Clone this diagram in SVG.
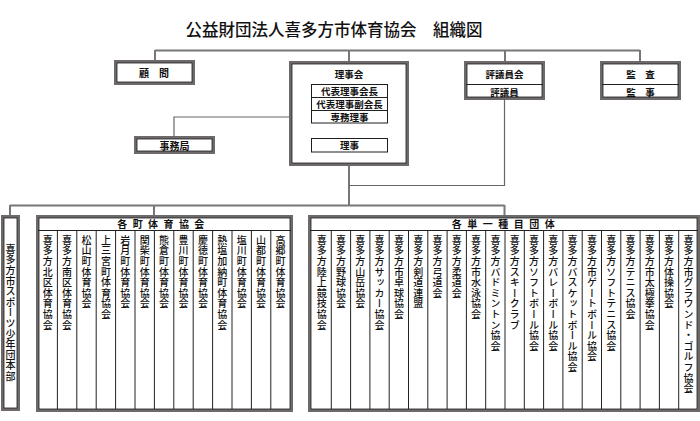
<svg xmlns="http://www.w3.org/2000/svg" width="700" height="421" viewBox="0 0 700 421">
<style>
text{font-family:"Noto Sans CJK JP","Noto Sans CJK SC",sans-serif;fill:#111}
.t{font-size:9.5px;font-weight:700;text-anchor:middle;dominant-baseline:central}
.v{font-size:10px;font-weight:500;writing-mode:vertical-rl;letter-spacing:0.6px}
.frame{fill:#fff;stroke:#6e6a6a;stroke-width:3}
.fin{fill:none;stroke:#1e1e1e;stroke-width:0.8}
.thin{fill:none;stroke:#1e1e1e;stroke-width:1}
.div{stroke:#222;stroke-width:1}
.c{fill:none;stroke:#777;stroke-width:2}
.c1{fill:none;stroke:#666;stroke-width:1.2}
</style>
<text x="334" y="36" style="font-size:16.5px;font-weight:500" text-anchor="middle">公益財団法人喜多方市体育協会　組織図</text>

<g id="connectors">
<path class="c" d="M155,50.5H640M155,50V61M349,50V62M505,50V62M640,50V62"/>
<path class="c1" d="M311,117H174V137"/>
<path class="c" d="M349,165V205"/>
<path class="c1" d="M504.5,99V185.5H349"/>
<path class="c" d="M10,205.5H504.5M10,205V216M154,205V216M504.5,205V216"/>
</g>

<g id="komon">
<rect class="frame" x="115.5" y="61.5" width="78" height="22"/>
<rect class="fin" x="117" y="63" width="75" height="19"/>
<text class="t" x="154" y="72.5" style="font-size:10px">顧　問</text>
</g>

<g id="rijikai">
<rect class="frame" x="290.5" y="62.5" width="117" height="102"/>
<rect class="fin" x="292" y="64" width="114" height="99"/>
<text class="t" x="349" y="73.5">理事会</text>
<rect class="thin" x="311.5" y="84.5" width="76" height="38.5"/>
<path class="div" d="M311.5,97.5H387.5M311.5,110.5H387.5"/>
<text class="t" x="349.5" y="91">代表理事会長</text>
<text class="t" x="349.5" y="104">代表理事副会長</text>
<text class="t" x="349.5" y="117">専務理事</text>
<rect class="thin" x="311.5" y="138.5" width="76" height="13.5"/>
<text class="t" x="349.5" y="145.3">理事</text>
</g>

<g id="jimukyoku">
<rect class="frame" x="135.5" y="137.5" width="78" height="15"/>
<rect class="fin" x="137" y="139" width="75" height="12"/>
<text class="t" x="174.5" y="145.3" style="font-size:10px">事務局</text>
</g>

<g id="hyogiinkai">
<rect class="frame" x="465.5" y="62.5" width="78" height="36"/>
<rect class="fin" x="467" y="64" width="75" height="33"/>
<path class="div" d="M466,84.5H543"/>
<text class="t" x="504.5" y="73.5">評議員会</text>
<text class="t" x="504.5" y="91.5">評議員</text>
</g>

<g id="kansa">
<rect class="frame" x="601.5" y="62.5" width="78" height="36"/>
<rect class="fin" x="603" y="64" width="75" height="33"/>
<path class="div" d="M602,84.5H679"/>
<text class="t" x="640.5" y="73.5">監　査</text>
<text class="t" x="640.5" y="91.5">監　事</text>
</g>

<g id="shonendan">
<rect class="frame" x="2.5" y="216.5" width="16" height="193"/>
<rect class="fin" x="4" y="218" width="13" height="190"/>
<text class="v" x="10.5" y="244">喜多方市スポーツ少年団本部</text>
</g>

<g id="kakucho">
<rect class="frame" x="37.5" y="216.5" width="254" height="194"/>
<rect class="fin" x="39" y="218" width="251" height="191"/>
<path class="div" d="M38,230.5H291M57.4,230.5V409M76.8,230.5V409M96.2,230.5V409M115.6,230.5V409M135,230.5V409M154.4,230.5V409M173.8,230.5V409M193.2,230.5V409M212.6,230.5V409M232,230.5V409M251.4,230.5V409M270.8,230.5V409"/>
<text class="t" x="163.5" y="223.5" style="font-size:10px;letter-spacing:5.4px">各町体育協会</text>
<text class="v" x="47.7" y="235">喜多方北区体育協会</text>
<text class="v" x="67.1" y="235">喜多方南区体育協会</text>
<text class="v" x="86.5" y="235">松山町体育協会</text>
<text class="v" x="105.9" y="235">上三宮町体育協会</text>
<text class="v" x="125.3" y="235">岩月町体育協会</text>
<text class="v" x="144.7" y="235">関柴町体育協会</text>
<text class="v" x="164.1" y="235">熊倉町体育協会</text>
<text class="v" x="183.5" y="235">豊川町体育協会</text>
<text class="v" x="202.9" y="235">慶徳町体育協会</text>
<text class="v" x="222.3" y="235">熱塩加納町体育協会</text>
<text class="v" x="241.7" y="235">塩川町体育協会</text>
<text class="v" x="261.1" y="235">山都町体育協会</text>
<text class="v" x="280.5" y="235">高郷町体育協会</text>
</g>

<g id="kakutanitsu">
<rect class="frame" x="309.5" y="216.5" width="389" height="194"/>
<rect class="fin" x="311" y="218" width="386" height="191"/>
<path class="div" d="M310,230.5H698M331.3,230.5V409M350.6,230.5V409M369.9,230.5V409M389.2,230.5V409M408.5,230.5V409M427.8,230.5V409M447.1,230.5V409M466.4,230.5V409M485.7,230.5V409M505,230.5V409M524.3,230.5V409M543.6,230.5V409M562.9,230.5V409M582.2,230.5V409M601.5,230.5V409M620.8,230.5V409M640.1,230.5V409M659.4,230.5V409M678.7,230.5V409"/>
<text class="t" x="506" y="223.5" style="font-size:10px;letter-spacing:5.5px">各単一種目団体</text>
<text class="v" x="321.7" y="235">喜多方陸上競技協会</text>
<text class="v" x="341" y="235">喜多方野球協会</text>
<text class="v" x="360.3" y="235">喜多方山岳協会</text>
<text class="v" x="379.6" y="235">喜多方サッカー協会</text>
<text class="v" x="398.9" y="235">喜多方市卓球協会</text>
<text class="v" x="418.2" y="235">喜多方剣道連盟</text>
<text class="v" x="437.5" y="235">喜多方弓道会</text>
<text class="v" x="456.8" y="235">喜多方柔道会</text>
<text class="v" x="476.1" y="235">喜多方市水泳協会</text>
<text class="v" x="495.4" y="235">喜多方バドミントン協会</text>
<text class="v" x="514.7" y="235">喜多方スキークラブ</text>
<text class="v" x="534" y="235">喜多方ソフトボール協会</text>
<text class="v" x="553.3" y="235">喜多方バレーボール協会</text>
<text class="v" x="572.6" y="235">喜多方バスケットボール協会</text>
<text class="v" x="591.9" y="235">喜多方市ゲートボール協会</text>
<text class="v" x="611.2" y="235">喜多方ソフトテニス協会</text>
<text class="v" x="630.5" y="235">喜多方テニス協会</text>
<text class="v" x="649.8" y="235">喜多方市太極拳協会</text>
<text class="v" x="669.1" y="235">喜多方体操協会</text>
<text class="v" x="688.4" y="235">喜多方市グラウンド・ゴルフ協会</text>
</g>
</svg>
